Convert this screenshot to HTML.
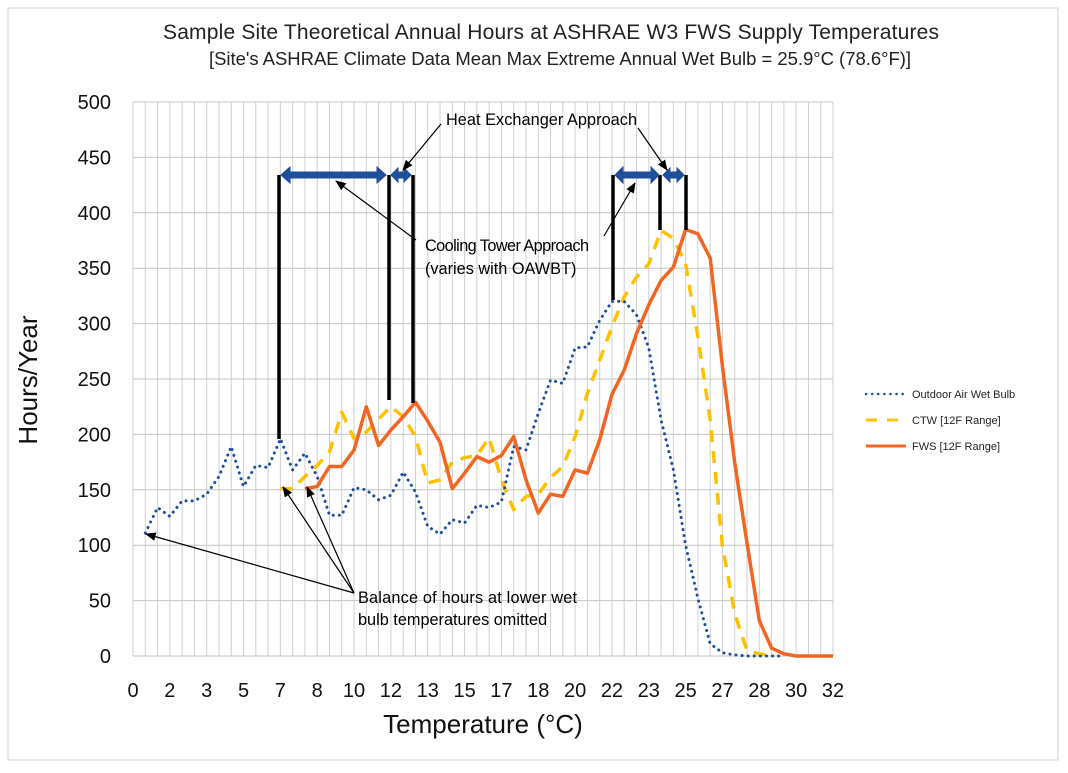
<!DOCTYPE html>
<html><head><meta charset="utf-8"><style>
body{margin:0;background:#fff;}
svg{display:block;font-family:"Liberation Sans",sans-serif;}
</style></head><body>
<svg id="chart" width="1068" height="773" viewBox="0 0 1068 773">
<defs>
<marker id="ah" viewBox="0 0 10 10" refX="9" refY="5" markerWidth="9" markerHeight="9" orient="auto-start-reverse"><path d="M0,1 L10,5 L0,9 z" fill="#000"/></marker>
</defs>
<rect x="8" y="8" width="1050" height="752" fill="#fff" stroke="#d0d0d0"/>
<text x="551" y="39" text-anchor="middle" font-size="21" fill="#222" textLength="776">Sample Site Theoretical Annual Hours at ASHRAE W3 FWS Supply Temperatures</text>
<text x="560" y="65" text-anchor="middle" font-size="18.5" fill="#222" textLength="702">[Site's ASHRAE Climate Data Mean Max Extreme Annual Wet Bulb = 25.9°C (78.6°F)]</text>
<g id="grid"></g>
<g id="axes"></g>
<g id="series"></g>
<g id="annot">
 <g stroke="#000" stroke-width="3.5">
  <line x1="279" y1="175" x2="279" y2="439"/>
  <line x1="389" y1="175" x2="389" y2="400"/>
  <line x1="413" y1="175" x2="413" y2="403"/>
  <line x1="613" y1="175" x2="613" y2="300"/>
  <line x1="660" y1="175" x2="660" y2="230"/>
  <line x1="686" y1="175" x2="686" y2="230"/>
 </g>
 <g fill="#1f4e9a" stroke="#1f4e9a">
  <path d="M281,175 l9,-8 v5 h87 v-5 l9,8 l-9,8 v-5 h-87 v5 z"/>
  <path d="M391,175 l7,-7 v4 h6 v-4 l7,7 l-7,7 v-4 h-6 v4 z"/>
  <path d="M615,175 l8,-8 v5 h28 v-5 l8,8 l-8,8 v-5 h-28 v5 z"/>
  <path d="M663,175 l7,-7 v4 h7 v-4 l7,7 l-7,7 v-4 h-7 v4 z"/>
 </g>
 <g stroke="#000" stroke-width="1.2" marker-end="url(#ah)">
  <line x1="441" y1="124" x2="403" y2="170"/>
  <line x1="638" y1="128" x2="667" y2="170"/>
  <line x1="416" y1="240" x2="336" y2="181"/>
  <line x1="604" y1="236" x2="635" y2="183"/>
  <line x1="354" y1="593" x2="146" y2="534"/>
  <line x1="354" y1="593" x2="283" y2="487"/>
  <line x1="354" y1="593" x2="307" y2="487"/>
 </g>
 <g font-size="16.3" fill="#000">
  <text x="446" y="125" textLength="191">Heat Exchanger Approach</text>
  <text x="425" y="251" textLength="164">Cooling Tower Approach</text>
  <text x="425" y="274">(varies with OAWBT)</text>
  <text x="358" y="603" textLength="219">Balance of hours at lower wet</text>
  <text x="358" y="625">bulb temperatures omitted</text>
 </g>
</g>
<g id="legend">
 <g><line x1="866" y1="394" x2="906" y2="394" stroke="#1f4e9a" stroke-width="2.5" stroke-dasharray="0.1 6" stroke-linecap="round"/><text x="912" y="398" font-size="11" fill="#222">Outdoor Air Wet Bulb</text></g>
 <g><line x1="866" y1="420" x2="906" y2="420" stroke="#ffc000" stroke-width="3" stroke-dasharray="11 10"/><text x="912" y="424" font-size="11" fill="#222">CTW [12F Range]</text></g>
 <g><line x1="866" y1="446" x2="906" y2="446" stroke="#f26522" stroke-width="3"/><text x="912" y="450" font-size="11" fill="#222">FWS [12F Range]</text></g>
</g>
<text x="483" y="733" text-anchor="middle" font-size="26" fill="#111">Temperature (°C)</text>
<text transform="translate(37,380) rotate(-90)" text-anchor="middle" font-size="26" fill="#111">Hours/Year</text>
</svg>
<script>
const xTickLabels = ["0","2","3","5","7","8","10","12","13","15","17","18","20","22","23","25","27","28","30","32"];
const yTicks = [0,50,100,150,200,250,300,350,400,450,500];
const nCategories = 58;
const oawbStart = 1;
const oawbValues = [111,134,126,140,140,146,162,189,153,172,170,196,168,183,162,127,127,152,150,141,145,166,148,117,110,123,120,136,134,139,189,186,219,249,246,278,279,303,320,320,308,278,213,168,100,52,11,3,1,0,0,0,0];
const ctwStart = 12;
const ctwValues = [151,151,162,172,184,220,196,202,214,225,216,198,156,159,175,179,181,197,159,132,144,146,161,171,198,237,267,297,324,342,354,384,377,354,288,213,99,38,5,2,0];
const fwsStart = 14;
const fwsValues = [151,153,171,171,186,225,190,204,216,229,212,193,151,165,180,175,181,198,159,129,146,144,168,165,195,236,258,291,317,339,351,385,381,359,261,174,102,32,7,2,0,0,0,0];

const NS="http://www.w3.org/2000/svg";
const L=133,R=833,T=102,B=656,YMAX=500;
const xs=i=>L+i*(R-L)/(nCategories-1);
const ys=v=>B-v*(B-T)/YMAX;
function mk(tag,attrs,parent){const e=document.createElementNS(NS,tag);for(const k in attrs)e.setAttribute(k,attrs[k]);parent.appendChild(e);return e;}
const grid=document.getElementById('grid'),axes=document.getElementById('axes'),series=document.getElementById('series');
for(let i=0;i<nCategories;i++){const ln=mk('line',{x1:xs(i),x2:xs(i),y1:T,y2:B,stroke:'#cfcfcf','stroke-width':1},grid);

}
yTicks.forEach(v=>{const ln=mk('line',{x1:L,x2:R,y1:ys(v),y2:ys(v),stroke:'#c4c4c4','stroke-width':1},grid);


const t=mk('text',{x:111,y:ys(v)+7,'text-anchor':'end','font-size':20,fill:'#111'},axes);t.textContent=v;

});
xTickLabels.forEach((lab,k)=>{const t=mk('text',{x:xs(k*3),y:697,'text-anchor':'middle','font-size':20,fill:'#111'},axes);t.textContent=lab;

});
function draw(start,vals,attrs,name){const pts=vals.map((v,j)=>xs(start+j).toFixed(1)+','+ys(v).toFixed(1)).join(' ');
const p=mk('polyline',Object.assign({points:pts,fill:'none','stroke-linejoin':'round'},attrs),series);

}
draw(ctwStart,ctwValues,{stroke:'#ffc000','stroke-width':3.5,'stroke-dasharray':'12 9'},'ctw-series');
draw(oawbStart,oawbValues,{stroke:'#1f4e9a','stroke-width':3,'stroke-dasharray':'0.1 6','stroke-linecap':'round'},'oawb-series');
draw(fwsStart,fwsValues,{stroke:'#f26522','stroke-width':3.5},'fws-series');
</script>
</body></html>
